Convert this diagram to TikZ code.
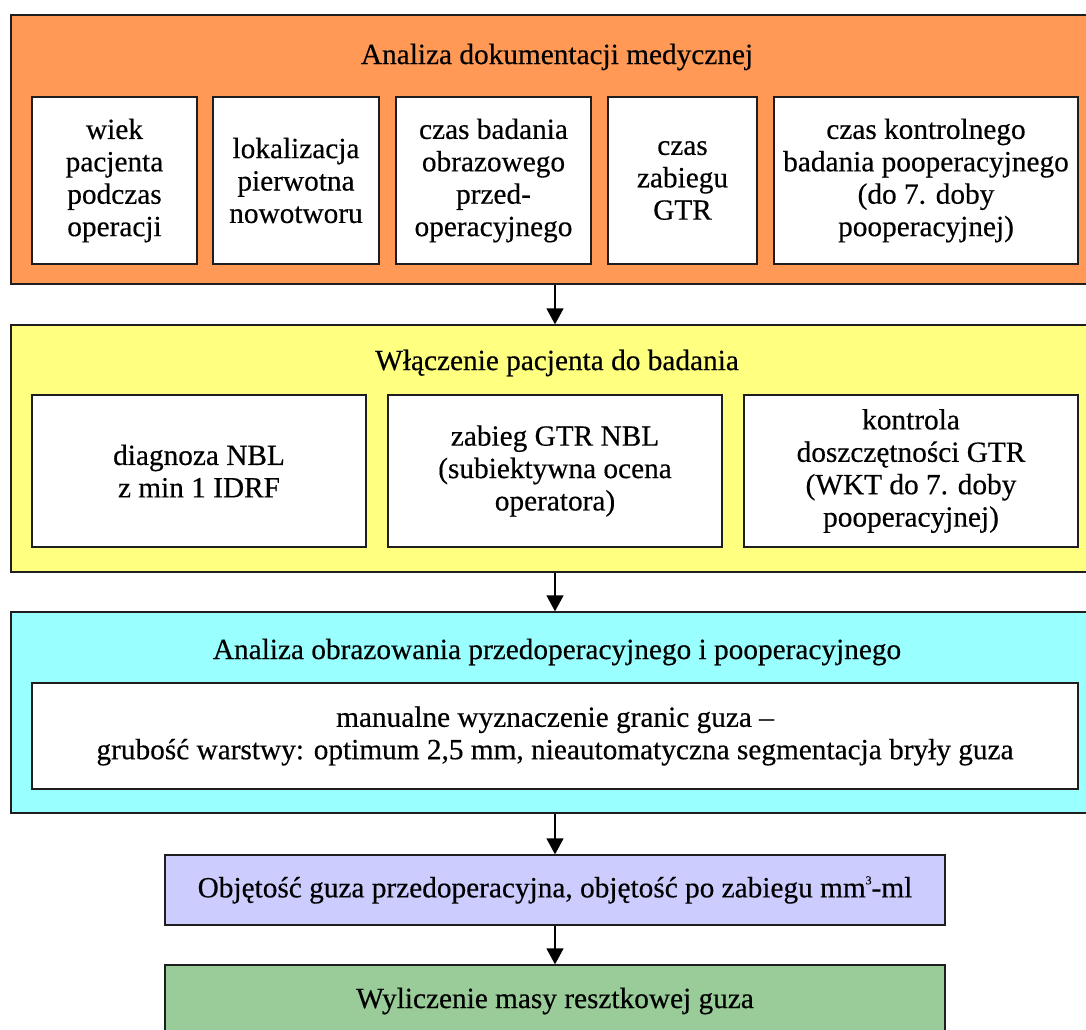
\documentclass[tikz,border=0pt]{standalone}
\usepackage{fontspec}
\setmainfont[FakeBold=0.4]{Liberation Serif}
\usetikzlibrary{arrows.meta}
\definecolor{docC}{RGB}{255,153,85}
\definecolor{inclC}{RGB}{255,255,128}
\definecolor{imgC}{RGB}{153,255,255}
\definecolor{volC}{RGB}{204,204,255}
\definecolor{massC}{RGB}{153,204,153}
\definecolor{edgeC}{RGB}{30,30,30}
\tikzset{
  panel/.style={draw=edgeC, line width=1.3pt, inner sep=0pt},
  cell/.style={draw=edgeC, line width=1.3pt, fill=white, align=center, inner sep=2pt},
  caption/.style={align=center, inner sep=0pt},
  arr/.style={draw=black, line width=1.3pt, -{Triangle[width=17pt,length=16pt]}},
}
\begin{document}
\begin{tikzpicture}[x=1pt,y=-1pt,font=\fontsize{29.3}{32.4}\selectfont]
\useasboundingbox (0,0) rectangle (1086,1029);
\clip (0,0) rectangle (1086,1029);

% stage 1: medical records
\node[panel, fill=docC, minimum width=1092pt, minimum height=269pt] (doc) at (557,149.5) {};
\node[caption] (docT) at (557,57) {Analiza dokumentacji medycznej};
\node[cell, minimum width=165pt, minimum height=167pt] (d1) at (114.5,180.5) {wiek\\pacjenta\\podczas\\operacji};
\node[cell, minimum width=166pt, minimum height=167pt] (d2) at (296,180.5) {lokalizacja\\pierwotna\\nowotworu};
\node[cell, minimum width=195pt, minimum height=167pt] (d3) at (493.5,180.5) {czas badania\\obrazowego\\przed-\\operacyjnego};
\node[cell, minimum width=149pt, minimum height=167pt] (d4) at (682.5,180.5) {czas\\zabiegu\\GTR};
\node[cell, minimum width=304pt, minimum height=167pt] (d5) at (926,180.5) {czas kontrolnego\\badania pooperacyjnego\\(do 7. doby\\pooperacyjnej)};

% stage 2: inclusion
\node[panel, fill=inclC, minimum width=1092pt, minimum height=247pt] (incl) at (557,448.5) {};
\node[caption] (inclT) at (557,363) {Włączenie pacjenta do badania};
\node[cell, minimum width=334pt, minimum height=152pt] (i1) at (199,471) {diagnoza NBL\\z min 1 IDRF};
\node[cell, minimum width=334pt, minimum height=152pt] (i2) at (555,471) {zabieg GTR NBL\\(subiektywna ocena\\operatora)};
\node[cell, minimum width=334pt, minimum height=152pt] (i3) at (911,471) {kontrola\\doszczętności GTR\\(WKT do 7. doby\\pooperacyjnej)};

% stage 3: imaging analysis
\node[panel, fill=imgC, minimum width=1092pt, minimum height=201pt] (img) at (557,712.5) {};
\node[caption] (imgT) at (557,652) {Analiza obrazowania przedoperacyjnego i pooperacyjnego};
\node[cell, minimum width=1046pt, minimum height=106pt] (m1) at (555,736) {manualne wyznaczenie granic guza –\\grubość warstwy: optimum 2,5 mm, nieautomatyczna segmentacja bryły guza};

% stage 4: volumes
\node[panel, fill=volC, minimum width=780pt, minimum height=70pt, align=center] (vol) at (555,890) {Objętość guza przedoperacyjna, objętość po zabiegu mm\raisebox{13pt}{\fontsize{12}{12}\selectfont 3}-ml};

% stage 5: residual mass
\node[panel, fill=massC, minimum width=780pt, minimum height=80pt] (mass) at (555,1005) {};
\node[caption] (massT) at (555,1001) {Wyliczenie masy resztkowej guza};

% flow arrows
\draw[arr] (doc.south -| vol.north) -- (incl.north -| vol.north);
\draw[arr] (incl.south -| vol.north) -- (img.north -| vol.north);
\draw[arr] (img.south -| vol.north) -- (vol.north);
\draw[arr] (vol.south) -- (mass.north);
\end{tikzpicture}
\end{document}
